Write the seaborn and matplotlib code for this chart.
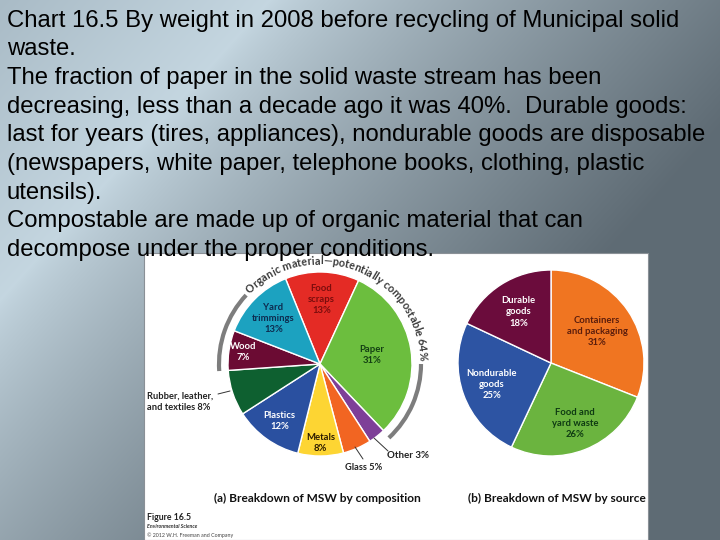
import numpy as np
import matplotlib
matplotlib.use("Agg")
import matplotlib.pyplot as plt
import seaborn as sns
from matplotlib.patches import Rectangle, Arc

sns.set_style("white")
plt.rcParams['font.family'] = ['Liberation Sans', 'DejaVu Sans']

W, H = 720, 540

# slide text
slide_lines = [
    "Chart 16.5 By weight in 2008 before recycling of Municipal solid",
    "waste.",
    "The fraction of paper in the solid waste stream has been",
    "decreasing, less than a decade ago it was 40%.  Durable goods:",
    "last for years (tires, appliances), nondurable goods are disposable",
    "(newspapers, white paper, telephone books, clothing, plastic",
    "utensils).",
    "Compostable are made up of organic material that can",
    "decompose under the proper conditions.",
]

# (a) composition
comp_labels = ["Food\nscraps", "Paper", "Other", "Glass", "Metals", "Plastics",
               "Rubber, leather,\nand textiles", "Wood", "Yard\ntrimmings"]
comp_values = [13, 31, 3, 5, 8, 12, 8, 7, 13]
comp_colors = sns.color_palette(["#e42b25", "#6cbe3e", "#7e3f98", "#f26522", "#fdd533",
                                 "#2a50a0", "#0e6030", "#6b0b33", "#1ca2c0"])
comp_text_colors = ["#7b0d0d", "#133f13", "#222222", "#222222", "#2b1a00", "white",
                    "#222222", "white", "#0d2b4f"]
organic_text = "Organic material\u2014potentially compostable 64%"

# (b) source
source_labels = ["Containers\nand packaging", "Food and\nyard waste", "Nondurable\ngoods", "Durable\ngoods"]
source_values = [31, 26, 25, 18]
source_colors = sns.color_palette(["#f07521", "#6bb43f", "#2d54a3", "#6b0c3c"])
source_text_colors = ["#5b1d0c", "#0e3a12", "white", "white"]

fig = plt.figure(figsize=(7.2, 5.4), dpi=100)
ax = fig.add_axes([0, 0, 1, 1])
ax.axis("off")

# slide background gradient
yy, xx = np.mgrid[0:H, 0:W]
d = (xx + 0.9 * yy - 270) / np.sqrt(1 + 0.81)
light = np.array([0.77, 0.84, 0.88])
dark_r = np.array([0.37, 0.42, 0.455])
dark_l = np.array([0.60, 0.67, 0.715])
tr = np.clip(d / 420, 0, 1)[..., None] ** 0.8
tl = np.clip(-d / 320, 0, 1)[..., None]
bg = light * (1 - tr) + dark_r * tr
bg = bg * (1 - tl) + dark_l * tl
ax.imshow(bg, extent=[0, W, 0, H], origin="upper", aspect="auto", zorder=0)

# white figure panel
ax.add_patch(Rectangle((144, 0), 504, 287, facecolor="white", edgecolor="#8a9096", lw=0.8, zorder=1))

for i, line in enumerate(slide_lines):
    ax.text(7, H - (26.5 + i * 28.7), line, fontsize=17.2, color="black",
            ha="left", va="baseline", zorder=5)

lab_font = dict(family=["Lato", "DejaVu Sans"], fontweight="bold")


def place_labels(wedges, labels, values, tcolors, cx, cy, r, fracs):
    for w, lab, v, c, f in zip(wedges, labels, values, tcolors, fracs):
        if f is None:
            continue
        mid = np.deg2rad((w.theta1 + w.theta2) / 2)
        ax.text(cx + f * r * np.cos(mid), cy + f * r * np.sin(mid), f"{lab}\n{v}%",
                ha="center", va="center", color=c, fontsize=6.8, linespacing=1.3,
                zorder=4, **lab_font)


# pie (a)
cxa, cya, ra = 320, H - 364, 92
wa, _ = ax.pie(comp_values, colors=comp_colors, startangle=112, counterclock=False,
               center=(cxa, cya), radius=ra, frame=True,
               wedgeprops=dict(edgecolor="white", linewidth=1.0, zorder=3))
place_labels(wa, comp_labels, comp_values, comp_text_colors, cxa, cya, ra,
             [0.70, 0.57, None, None, 0.86, 0.76, None, 0.84, 0.71])

# outside labels for (a)
ax.text(147, H - 402, f"{comp_labels[6]} {comp_values[6]}%", ha="left", va="center",
        fontsize=6.7, color="#222222", linespacing=1.3, zorder=4, **lab_font)
ax.plot([218, 230], [H - 394, H - 391], color="#333333", lw=0.7, zorder=4)
ax.text(345, H - 468, f"{comp_labels[3]} {comp_values[3]}%", ha="left", va="center",
        fontsize=6.7, color="#222222", zorder=4, **lab_font)
ax.plot([355, 363], [H - 447, H - 459], color="#333333", lw=0.7, zorder=4)
ax.text(387, H - 455, f"{comp_labels[2]} {comp_values[2]}%", ha="left", va="center",
        fontsize=7.0, color="#222222", zorder=4, **lab_font)
ax.plot([374, 388], [H - 438, H - 451], color="#333333", lw=0.7, zorder=4)

# organic arc
arc_r = 101
ax.add_patch(Arc((cxa, cya), 2 * arc_r, 2 * arc_r, theta1=137, theta2=184,
                 color="#7d7d7d", lw=3, zorder=3))
ax.add_patch(Arc((cxa, cya), 2 * arc_r, 2 * arc_r, theta1=-47, theta2=0,
                 color="#7d7d7d", lw=3, zorder=3))

renderer = fig.canvas.get_renderer()


def text_width(s, size):
    t = ax.text(0, 0, s, fontsize=size, **lab_font)
    w = t.get_window_extent(renderer).width
    t.remove()
    return w


base = 7.0
char_w = [text_width("x" + ch + "x", base) - text_width("xx", base) for ch in organic_text]
a0, a1 = 135.0, 2.0
text_r = 99.5
target = np.deg2rad(a0 - a1) * text_r
scale = target / sum(char_w)
size = base * scale
pos = 0.0
for ch, cw in zip(organic_text, char_w):
    cw *= scale
    ang = a0 - np.rad2deg((pos + cw / 2) / text_r)
    th = np.deg2rad(ang)
    ax.text(cxa + text_r * np.cos(th), cya + text_r * np.sin(th), ch, fontsize=size,
            rotation=ang - 90, rotation_mode="anchor", ha="center", va="baseline",
            color="#3a3a3a", zorder=4, **lab_font)
    pos += cw

# pie (b)
cxb, cyb, rb = 551, H - 363, 93
wb, _ = ax.pie(source_values, colors=source_colors, startangle=90, counterclock=False,
               center=(cxb, cyb), radius=rb, frame=True,
               wedgeprops=dict(edgecolor="white", linewidth=1.0, zorder=3))
place_labels(wb, source_labels, source_values, source_text_colors, cxb, cyb, rb,
             [0.60, 0.70, 0.68, 0.65])

# captions
ax.text(317.5, H - 498, "(a) Breakdown of MSW by composition", ha="center", va="center",
        fontsize=8.6, color="#111111", zorder=4, **lab_font)
ax.text(556.5, H - 498, "(b) Breakdown of MSW by source", ha="center", va="center",
        fontsize=8.6, color="#111111", zorder=4, **lab_font)
ax.text(147, H - 517, "Figure 16.5", ha="left", va="center", fontsize=6.3,
        color="#222222", zorder=4, **lab_font)
ax.text(147, H - 527, "Environmental Science", ha="left", va="center", fontsize=3.8,
        color="#333333", style="italic", zorder=4, **lab_font)
ax.text(147, H - 535, "\u00a9 2012 W.H. Freeman and Company", ha="left", va="center",
        fontsize=3.8, color="#444444", zorder=4, family=["Lato", "DejaVu Sans"])

ax.set_xlim(0, W)
ax.set_ylim(0, H)
ax.set_aspect("auto")

fig.savefig("out.png", dpi=100)
